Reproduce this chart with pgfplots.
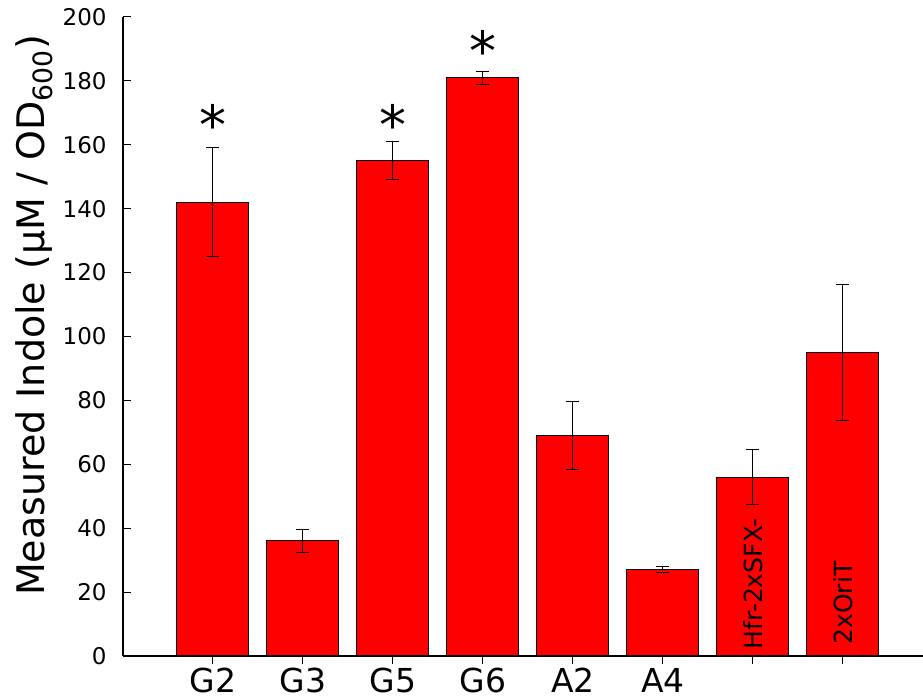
\documentclass[border=0pt]{standalone}
\usepackage{fontspec}
\setmainfont{DejaVu Sans}
\usepackage{pgfplots}
\pgfplotsset{compat=1.18}
\pgfplotstableread{
x y e
1 142 17
2 36 3.5
3 155 6
4 181 2
5 69 10.7
6 27 1
7 56 8.5
8 95 21.3
}\datatable
\begin{document}
\begin{tikzpicture}
\useasboundingbox (-61.5pt,-22pt) rectangle (400pt,328pt);
\begin{axis}[
  at={(0pt,0pt)}, anchor=south west, scale only axis,
  width=400.5pt, height=319.5pt,
  xmin=0, xmax=8.9, ymin=0, ymax=200,
  axis lines*=left,
  axis line style={black, line width=0.6pt},
  ytick={0,20,...,200},
  xtick={1,2,3,4,5,6,7,8},
  xticklabels={G2,G3,G5,G6,A2,A4,{},{}},
  tick align=inside,
  major tick length=4pt,
  tick style={black, line width=0.5pt},
  /pgf/number format/assume math mode=true,
  yticklabel style={font=\fontsize{11.5}{13}\selectfont, inner sep=0pt, xshift=-8pt},
  xticklabel style={font=\fontsize{16.5}{19}\selectfont, inner sep=0pt, yshift=-2pt},
  ybar, bar width=36pt,
  clip=false,
]
\addplot[fill=red, draw=black, line width=0.5pt,
  error bars/.cd, y dir=both, y explicit,
  error bar style={black, line width=0.5pt},
  error mark options={rotate=90, mark size=3.25pt, black, line width=0.5pt}]
  table[x=x, y=y, y error=e] {\datatable};
\node[font=\fontsize{27}{30}\selectfont] at (axis cs:1,166.5) {*};
\node[font=\fontsize{27}{30}\selectfont] at (axis cs:3,166.5) {*};
\node[font=\fontsize{27}{30}\selectfont] at (axis cs:4,189.5) {*};
\node[rotate=90, anchor=west, inner sep=0pt, font=\fontsize{12.5}{14}\selectfont] at (axis cs:7,2) {Hfr-2xSFX-};
\node[rotate=90, anchor=west, inner sep=0pt, font=\fontsize{12.5}{14}\selectfont] at (axis cs:8,3.5) {2xOriT};
\end{axis}
\node[rotate=90, anchor=base, inner sep=0pt, font=\fontsize{19}{22}\selectfont] at (-39pt,170.25pt) {Measured Indole (μM / OD\textsubscript{600})};
\end{tikzpicture}
\end{document}
